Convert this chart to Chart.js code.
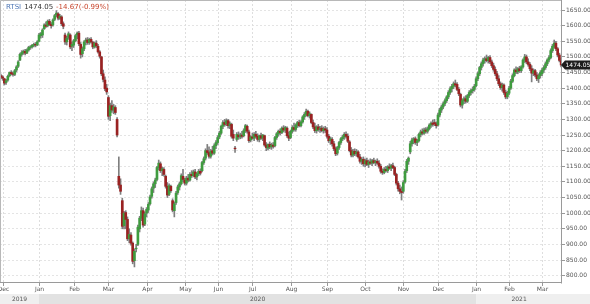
<!DOCTYPE html>
<html><head><meta charset="utf-8">
<script src="https://cdn.jsdelivr.net/npm/chart.js@4.4.0/dist/chart.umd.min.js"></script>
<style>html,body{margin:0;padding:0;background:#fff;}canvas{display:block;}</style>
</head><body>
<canvas id="c" width="590" height="304"></canvas>
<script>
const symbol = 'RTSI';
const firstDay = '2019-11-29';
const lastDay = '2021-03-17';
const holidays = ['2019-12-31','2020-01-01','2020-01-02','2020-01-07','2020-05-01','2020-05-11','2020-06-12','2020-06-24','2020-07-01','2020-11-04','2020-12-31','2021-01-01','2021-01-07','2021-02-23','2021-03-08'];
const monthNames = ['Jan','Feb','Mar','Apr','May','Jun','Jul','Aug','Sep','Oct','Nov','Dec'];
const yTickStep = 50;
const yMin = 776.6;
const yMax = 1682;

const opens = [
1440,1436,1430,1418,1426,1440,1450,1446,1444,1458,1470,1490,1508,1514,1518,1512,1522,1530,1532,1537,1540,1538,
1550,1568,1570,1590,1602,1600,1614,1604,1602,1620,1634,1638,1624,1628,1606,1570,1548,1562,1570,1534,
1538,1552,1570,1576,1540,1510,1526,1550,1554,1546,1556,1546,1532,1544,1534,1516,1500,1446,1426,1400,
1370,1312,1344,1330,1338,1300,1118,1090,1040,960,1002,980,918,930,904,848,886,900,950,984,1008,965,
1000,1010,1030,1054,1080,1094,1108,1146,1158,1136,1140,1118,1086,1060,1086,1040,1008,1034,1066,1084,1094,1118,
1106,1096,1112,1106,1124,1120,1132,1116,1126,1134,1136,1162,1176,1200,1194,1182,1200,1192,1216,
1226,1244,1256,1278,1290,1286,1296,1280,1284,1252,1208,1236,1250,1244,1250,1248,1264,1278,1260,1234,
1244,1240,1252,1246,1236,1248,1240,1248,1218,1208,1220,1212,1218,1216,1242,1254,1262,1258,1272,1266,1272,1248,
1242,1262,1274,1268,1282,1290,1280,1292,1308,1316,1326,1312,1316,1290,1276,1264,1276,1268,1272,1264,1270,
1266,1246,1232,1236,1222,1206,1192,1210,1226,1238,1244,1252,1246,1228,1200,1186,1198,1190,1196,1180,1166,1172,
1158,1168,1156,1164,1160,1168,1162,1166,1160,1150,1134,1130,1140,1136,1148,1144,1152,1146,1124,1096,1078,1070,
1070,1100,1136,1166,1196,1222,1234,1238,1226,1232,1252,1260,1256,1266,1262,1270,1282,1288,1290,1286,
1282,1314,1330,1340,1350,1360,1372,1386,1398,1406,1414,1412,1396,1380,1346,1360,1366,1358,1376,1386,1392,1396,
1408,1430,1446,1466,1478,1490,1494,1488,1498,1484,1472,1460,1446,1430,1414,1402,1410,1386,1372,
1384,1400,1422,1440,1458,1452,1462,1456,1468,1490,1500,1484,1476,1462,1448,1456,1442,1430,1440,
1446,1458,1466,1478,1490,1498,1520,1534,1544,1526,1506,1488
];
const highs = [
1445,1440,1432,1428,1442,1452,1456,1452,1460,1472,1488,1512,1520,1522,1524,1526,1534,1536,1540,1544,1546,1552,
1575,1578,1590,1606,1612,1618,1620,1610,1622,1636,1648,1642,1636,1632,1612,1576,1566,1580,1574,1548,
1556,1572,1580,1582,1546,1532,1552,1560,1562,1560,1562,1550,1548,1552,1540,1520,1502,1458,1436,1412,
1376,1352,1360,1348,1344,1306,1180,1110,1048,1006,1008,988,950,938,908,886,900,962,990,1020,1016,1004,
1018,1034,1058,1084,1100,1112,1150,1170,1164,1148,1146,1122,1098,1094,1090,1046,1036,1070,1090,1100,1126,1140,
1112,1118,1124,1130,1136,1138,1140,1130,1140,1142,1166,1180,1206,1220,1212,1204,1214,1222,1232,
1248,1262,1282,1296,1300,1302,1300,1292,1288,1266,1214,1258,1260,1256,1262,1270,1284,1282,1266,1248,
1256,1258,1262,1254,1250,1256,1252,1250,1226,1222,1228,1224,1226,1246,1258,1266,1270,1276,1280,1278,1276,1260,
1266,1280,1288,1286,1294,1298,1296,1312,1322,1333,1330,1324,1318,1298,1288,1280,1284,1278,1280,1276,1278,
1274,1252,1244,1242,1230,1212,1214,1230,1242,1250,1258,1260,1254,1232,1210,1204,1206,1204,1200,1188,1178,1180,
1174,1176,1170,1174,1172,1176,1170,1174,1168,1156,1142,1146,1150,1152,1158,1156,1160,1150,1128,1102,1090,1084,
1104,1140,1172,1180,1230,1240,1242,1244,1236,1256,1266,1270,1272,1274,1276,1286,1292,1298,1300,1292,
1320,1336,1346,1356,1366,1376,1392,1404,1412,1420,1426,1418,1402,1384,1366,1372,1376,1380,1392,1398,1404,1412,
1436,1452,1470,1484,1496,1500,1506,1502,1504,1490,1480,1468,1454,1440,1420,1416,1414,1394,1390,
1406,1428,1446,1462,1468,1466,1470,1472,1494,1508,1506,1494,1482,1472,1462,1460,1450,1446,1456,
1464,1472,1484,1494,1504,1526,1540,1554,1550,1530,1512,1496
];
const lows = [
1430,1425,1410,1412,1422,1436,1442,1438,1440,1452,1466,1488,1502,1508,1506,1510,1518,1524,1528,1532,1532,1536,
1548,1560,1562,1588,1594,1596,1600,1592,1598,1616,1628,1618,1620,1600,1590,1540,1538,1556,1526,1520,
1530,1548,1558,1536,1496,1500,1520,1538,1540,1540,1544,1526,1528,1530,1512,1496,1440,1420,1392,1380,
1300,1296,1322,1318,1316,1244,1080,1060,950,950,950,912,905,898,838,828,876,896,940,976,955,960,
988,1002,1026,1048,1066,1082,1104,1138,1130,1120,1118,1080,1050,1056,1066,1004,988,1028,1060,1074,1090,1100,
1090,1090,1100,1102,1114,1116,1110,1106,1120,1122,1132,1156,1170,1188,1176,1176,1186,1188,1206,
1220,1238,1252,1270,1278,1280,1272,1270,1240,1232,1194,1230,1236,1238,1240,1244,1258,1256,1226,1228,
1236,1232,1240,1230,1228,1236,1232,1214,1200,1202,1206,1204,1208,1212,1236,1246,1250,1254,1260,1258,1242,1232,
1238,1256,1262,1262,1274,1276,1276,1288,1300,1310,1308,1304,1286,1270,1258,1256,1262,1258,1260,1256,1258,
1240,1226,1220,1214,1200,1184,1186,1204,1220,1232,1236,1240,1226,1196,1180,1180,1184,1182,1176,1160,1156,1150,
1148,1152,1146,1156,1152,1158,1152,1156,1144,1128,1124,1126,1132,1130,1140,1136,1142,1120,1090,1070,1062,1042,
1064,1096,1130,1156,1190,1214,1222,1220,1216,1228,1244,1250,1252,1256,1256,1266,1274,1278,1280,1272,
1278,1308,1322,1334,1344,1354,1366,1380,1388,1398,1404,1392,1376,1340,1336,1350,1352,1354,1370,1378,1384,1390,
1404,1424,1440,1458,1470,1480,1484,1480,1478,1466,1454,1440,1424,1408,1396,1390,1380,1366,1366,
1378,1396,1418,1436,1446,1446,1450,1450,1464,1482,1478,1470,1456,1420,1440,1436,1424,1418,1432,
1440,1450,1460,1472,1484,1494,1514,1528,1520,1500,1484,1468
];
const closes = [
1436,1432,1416,1424,1438,1450,1446,1444,1456,1468,1484,1508,1514,1518,1512,1522,1530,1532,1537,1540,1538,1548,
1570,1574,1586,1602,1598,1614,1604,1600,1618,1632,1640,1624,1630,1606,1598,1548,1560,1574,1532,1540,
1552,1568,1576,1542,1508,1526,1548,1554,1546,1556,1548,1532,1544,1536,1516,1502,1446,1428,1398,1388,
1310,1344,1330,1340,1322,1250,1090,1070,958,1000,980,918,932,904,846,878,888,955,984,1008,962,998,
1012,1028,1052,1078,1094,1106,1146,1160,1136,1142,1124,1086,1058,1088,1072,1010,1030,1064,1084,1094,1120,1108,
1096,1112,1106,1124,1120,1132,1116,1126,1134,1128,1162,1174,1200,1194,1182,1198,1192,1216,1226,
1242,1256,1278,1290,1284,1296,1280,1286,1246,1240,1206,1252,1244,1250,1246,1264,1280,1262,1232,1244,
1240,1252,1246,1236,1248,1240,1250,1218,1210,1220,1212,1218,1214,1242,1254,1262,1258,1272,1266,1274,1248,1240,
1262,1274,1268,1282,1290,1280,1292,1308,1316,1326,1312,1318,1290,1276,1264,1276,1268,1272,1264,1270,1266,
1246,1232,1238,1222,1206,1190,1210,1226,1238,1244,1252,1246,1230,1200,1186,1198,1190,1196,1180,1166,1172,1158,
1168,1156,1164,1160,1168,1162,1166,1160,1150,1134,1130,1140,1136,1148,1144,1152,1146,1124,1096,1078,1070,1066,
1098,1134,1166,1176,1222,1234,1238,1226,1232,1252,1260,1256,1266,1262,1270,1282,1288,1284,1286,1280,
1314,1330,1340,1350,1360,1372,1386,1398,1406,1414,1410,1396,1382,1346,1360,1366,1358,1376,1386,1392,1396,1406,
1430,1446,1466,1478,1490,1494,1488,1498,1484,1472,1460,1446,1430,1414,1402,1410,1386,1372,1384,
1400,1422,1440,1458,1452,1462,1456,1468,1490,1500,1484,1476,1462,1448,1456,1442,1430,1440,1450,
1458,1466,1478,1490,1498,1520,1534,1544,1526,1506,1488.72,1474.05
];

// trading-day categories
const dates = [];
for (let d = new Date(firstDay + 'T00:00:00Z'); d <= new Date(lastDay + 'T00:00:00Z'); d.setUTCDate(d.getUTCDate() + 1)) {
  const wd = d.getUTCDay();
  const s = d.toISOString().slice(0, 10);
  if (wd === 0 || wd === 6 || holidays.includes(s)) continue;
  dates.push(s);
}
if (dates.length !== closes.length) console.error('length mismatch', dates.length, closes.length, opens.length, highs.length, lows.length);

const monthStarts = [];
for (let i = 1; i < dates.length; i++) if (dates[i].slice(0, 7) !== dates[i - 1].slice(0, 7)) monthStarts.push(i);

const GREEN = '#3f9c3f', RED = '#9a2222', WICK = '#7f7f7f';
const FONT = '"DejaVu Sans", Verdana, sans-serif';

const rtsPlugin = {
  id: 'rtsDecor',
  beforeDatasetsDraw(chart) {
    const {ctx, chartArea: a, scales: {x}} = chart;
    ctx.save();
    ctx.strokeStyle = '#dedede'; ctx.lineWidth = 1; ctx.setLineDash([2, 2]);
    monthStarts.forEach(i => {
      const px = Math.round(x.getPixelForValue(i)) + 0.5;
      ctx.beginPath(); ctx.moveTo(px, a.top); ctx.lineTo(px, a.bottom); ctx.stroke();
    });
    ctx.restore();
  },
  afterDraw(chart) {
    const {ctx, chartArea: a, scales: {x, y}} = chart;
    const W = chart.width, H = chart.height;
    ctx.save();
    // year band
    const bandTop = a.bottom + 11;
    const yearStarts = monthStarts.filter(i => dates[i].slice(5, 7) === '01');
    const bounds = [a.left, ...yearStarts.map(i => x.getPixelForValue(i)), W];
    const years = [dates[0].slice(0, 4), ...yearStarts.map(i => dates[i].slice(0, 4))];
    for (let k = 0; k < years.length; k++) {
      ctx.fillStyle = (k % 2 === 1) ? '#e2e2e2' : '#efefef';
      ctx.fillRect(bounds[k], bandTop, bounds[k + 1] - bounds[k], H - bandTop);
      ctx.fillStyle = '#555'; ctx.font = '6px ' + FONT; ctx.textAlign = 'center'; ctx.textBaseline = 'middle';
      const cx = (bounds[k] + Math.min(bounds[k + 1], a.right)) / 2;
      ctx.fillText(years[k], cx, bandTop + 5.5);
    }
    // frame
    ctx.strokeStyle = '#b8b8b8'; ctx.lineWidth = 1;
    ctx.beginPath();
    ctx.moveTo(a.left + 0.5, a.bottom); ctx.lineTo(a.left + 0.5, a.top + 0.5); ctx.lineTo(a.right - 0.5, a.top + 0.5);
    ctx.stroke();
    ctx.strokeStyle = '#9a9a9a';
    ctx.beginPath();
    ctx.moveTo(a.right - 0.5, a.top); ctx.lineTo(a.right - 0.5, a.bottom + 0.5);
    ctx.moveTo(a.left, a.bottom - 0.5); ctx.lineTo(a.right, a.bottom - 0.5);
    ctx.stroke();
    // month ticks + labels
    ctx.font = '6px ' + FONT; ctx.fillStyle = '#555'; ctx.textAlign = 'center'; ctx.textBaseline = 'middle';
    monthStarts.forEach(i => {
      const px = Math.round(x.getPixelForValue(i)) + 0.5;
      ctx.strokeStyle = '#999';
      ctx.beginPath(); ctx.moveTo(px, a.bottom); ctx.lineTo(px, a.bottom + 3); ctx.stroke();
      ctx.fillText(monthNames[parseInt(dates[i].slice(5, 7), 10) - 1], px, a.bottom + 6.5);
    });
    // legend
    const n = closes.length;
    const last = closes[n - 1], prev = closes[n - 2];
    const chg = last - prev, pct = chg / prev * 100;
    ctx.textAlign = 'left'; ctx.textBaseline = 'alphabetic'; ctx.font = '7px ' + FONT;
    let tx = 6; const ty = 9;
    const parts = [[symbol, '#4f77b5'], [last.toFixed(2), '#333'], [chg.toFixed(2) + '(' + pct.toFixed(2) + '%)', chg < 0 ? '#c8452c' : GREEN]];
    parts.forEach(([t, c]) => { ctx.fillStyle = c; ctx.fillText(t, tx, ty); tx += ctx.measureText(t).width + 3; });
    // last price tag
    const py = y.getPixelForValue(last);
    ctx.fillStyle = '#1e1e1e';
    ctx.beginPath();
    ctx.moveTo(a.right - 1, py); ctx.lineTo(a.right + 3, py - 4.5); ctx.lineTo(W, py - 4.5); ctx.lineTo(W, py + 4.5); ctx.lineTo(a.right + 3, py + 4.5);
    ctx.closePath(); ctx.fill();
    ctx.fillStyle = '#fff'; ctx.font = '6px ' + FONT; ctx.textBaseline = 'middle';
    ctx.fillText(last.toFixed(2), a.right + 3.5, py + 0.5);
    ctx.restore();
  }
};

new Chart(document.getElementById('c'), {
  type: 'bar',
  data: {
    labels: dates,
    datasets: [
      { label: 'body', data: opens.map((o, i) => [o, closes[i]]), backgroundColor: opens.map((o, i) => closes[i] >= o ? GREEN : RED), barThickness: 2, grouped: false, order: 0, borderWidth: 0 },
      { label: 'wick', data: lows.map((l, i) => [l, highs[i]]), backgroundColor: WICK, barThickness: 1, grouped: false, order: 1, borderWidth: 0 }
    ]
  },
  options: {
    responsive: false, animation: false, devicePixelRatio: 1,
    layout: { padding: 0 },
    plugins: { legend: { display: false }, tooltip: { enabled: false } },
    scales: {
      x: { type: 'category', offset: true, grid: { display: false }, border: { display: false }, ticks: { display: false },
           afterFit(s) { s.height = 21; s.paddingLeft = 0; s.paddingRight = 0; } },
      y: { position: 'right', min: yMin, max: yMax,
           grid: { color: '#e4e4e4', tickLength: 3, tickColor: '#999', tickBorderDash: [] },
           border: { display: false, dash: [2, 2] },
           ticks: { stepSize: yTickStep, includeBounds: false, padding: 1, color: '#555', font: { family: FONT, size: 6 }, callback: v => v.toFixed(2) },
           afterFit(s) { s.width = 28; s.paddingTop = 0; s.paddingBottom = 0; } }
    }
  },
  plugins: [rtsPlugin]
});
</script>
</body></html>
